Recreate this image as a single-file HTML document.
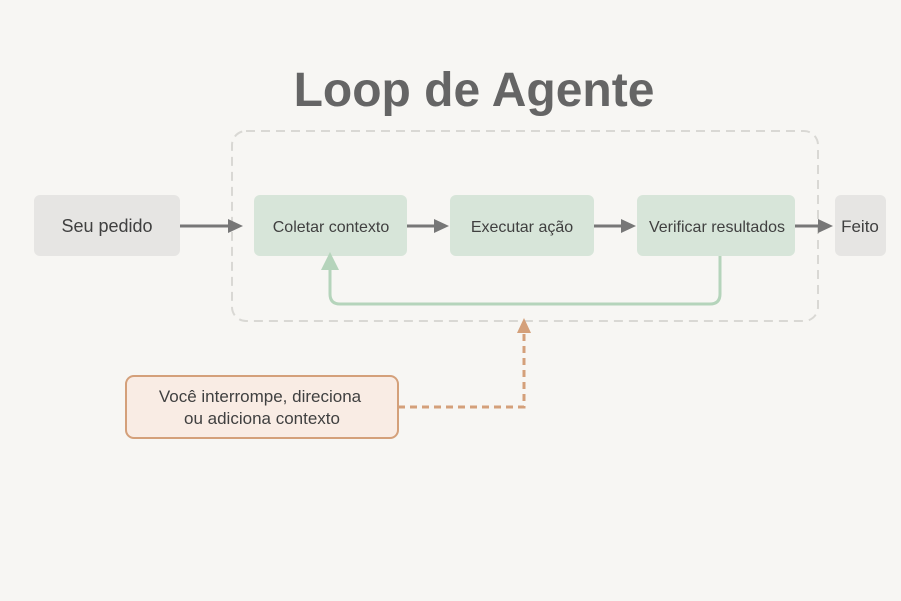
<!DOCTYPE html>
<html><head><meta charset="utf-8"><style>
body{margin:0;background:#f7f6f3;}
svg{display:block;font-family:"Liberation Sans",sans-serif;}
</style></head><body>
<svg width="901" height="601" viewBox="0 0 901 601">
<rect width="901" height="601" fill="#f7f6f3"/>
<text x="474" y="106" text-anchor="middle" font-size="48" font-weight="bold" fill="#656565">Loop de Agente</text>
<rect x="232" y="131" width="586" height="190" rx="14" fill="none" stroke="#d9d8d4" stroke-width="2" stroke-dasharray="9 6"/>
<rect x="34" y="195" width="146" height="61" rx="6" fill="#e6e5e3"/>
<rect x="254" y="195" width="153" height="61" rx="6" fill="#d7e5d9"/>
<rect x="450" y="195" width="144" height="61" rx="6" fill="#d7e5d9"/>
<rect x="637" y="195" width="158" height="61" rx="6" fill="#d7e5d9"/>
<rect x="835" y="195" width="51" height="61" rx="6" fill="#e6e5e3"/>
<g fill="#404040" text-anchor="middle">
<text x="107" y="232" font-size="18">Seu pedido</text>
<text x="331" y="232" font-size="16">Coletar contexto</text>
<text x="522" y="232" font-size="16">Executar ação</text>
<text x="717" y="232" font-size="16">Verificar resultados</text>
<text x="860" y="232" font-size="17">Feito</text>
</g>
<g stroke="#777" stroke-width="3" fill="#777">
<line x1="180" y1="226" x2="230" y2="226"/><polygon points="228,219 243,226 228,233" stroke="none"/>
<line x1="407" y1="226" x2="436" y2="226"/><polygon points="434,219 449,226 434,233" stroke="none"/>
<line x1="594" y1="226" x2="623" y2="226"/><polygon points="621,219 636,226 621,233" stroke="none"/>
<line x1="795" y1="226" x2="820" y2="226"/><polygon points="818,219 833,226 818,233" stroke="none"/>
</g>
<path d="M720 256 V294 Q720 304 710 304 H340 Q330 304 330 294 V266" fill="none" stroke="#b5d4bb" stroke-width="3"/>
<polygon points="321,270 330,252 339,270" fill="#b5d4bb"/>
<rect x="126" y="376" width="272" height="62" rx="8" fill="#f9ece4" stroke="#d4a07a" stroke-width="2"/>
<text x="260" y="402" text-anchor="middle" font-size="17" fill="#404040">Você interrompe, direciona</text>
<text x="262" y="424" text-anchor="middle" font-size="17" fill="#404040">ou adiciona contexto</text>
<path d="M398 407 H524 V332" fill="none" stroke="#d4a07a" stroke-width="3" stroke-dasharray="7 5"/>
<polygon points="517,333 524,318 531,333" fill="#d4a07a"/>
</svg>
</body></html>
